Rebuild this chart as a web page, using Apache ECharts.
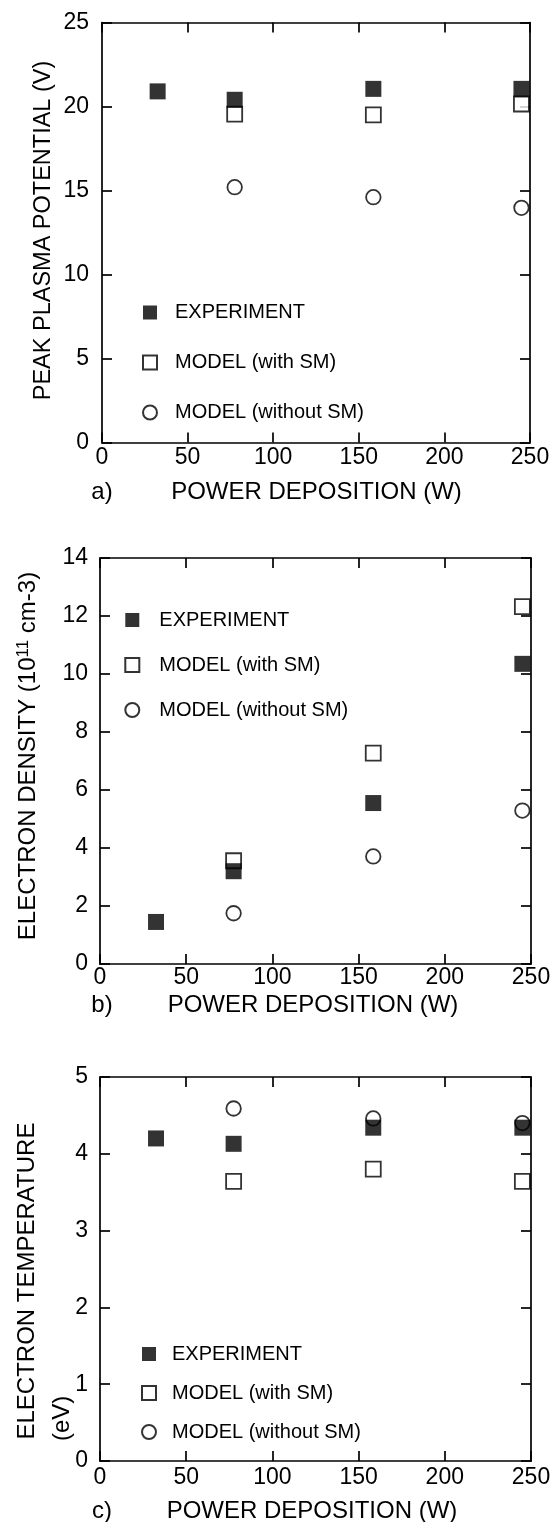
<!DOCTYPE html>
<html>
<head>
<meta charset="utf-8">
<script src="https://cdn.jsdelivr.net/npm/echarts@6/dist/echarts.min.js"></script>
<style>
html,body{margin:0;padding:0;background:#fff;}
#chart{width:557px;height:1522px;}
</style>
</head>
<body>
<div id="chart"></div>
<script>
// ---------------- data ----------------
const xTicks = [0, 50, 100, 150, 200, 250];
const yTicksA = [0, 5, 10, 15, 20, 25];
const yTicksB = [0, 2, 4, 6, 8, 10, 12, 14];
const yTicksC = [0, 1, 2, 3, 4, 5];

const seriesNames = ['EXPERIMENT', 'MODEL (with SM)', 'MODEL (without SM)'];

const powerExp = [32.5, 77.5, 158.5, 245];
const powerModel = [77.5, 158.5, 245];

const potentialExp = [20.9, 20.4, 21.05, 21.05];
const potentialWithSM = [19.55, 19.5, 20.15];
const potentialWithoutSM = [15.2, 14.6, 13.97];

const densityExp = [1.45, 3.2, 5.55, 10.35];
const densityWithSM = [3.56, 7.27, 12.32];
const densityWithoutSM = [1.75, 3.71, 5.29];

const temperatureExp = [4.20, 4.13, 4.34, 4.34];
const temperatureWithSM = [3.64, 3.80, 3.64];
const temperatureWithoutSM = [4.59, 4.46, 4.40];

const panelLabels = ['a)', 'b)', 'c)'];
const xTitle = 'POWER DEPOSITION (W)';

// ---------------- helpers ----------------
const FONT = "'Liberation Sans', Arial, Helvetica, sans-serif";
const zip = (xs, ys) => xs.map((x, i) => [x, ys[i]]);

const grids = [
  { left: 102, top: 22.5, width: 428, height: 420 },
  { left: 100, top: 558, width: 431, height: 406 },
  { left: 100, top: 1077, width: 431, height: 384 }
];
const yTickSets = [yTicksA, yTicksB, yTicksC];
const xLabelMargin = [4, 2, 5];
const yLabelMargin = [13, 12, 12];

const lineStyle = { color: '#000', width: 1.7 };
const xAxes = [], yAxes = [];
grids.forEach((g, i) => {
  const common = {
    type: 'value', gridIndex: i,
    min: xTicks[0], max: xTicks[xTicks.length - 1], interval: xTicks[1] - xTicks[0],
    splitLine: { show: false },
    axisLine: { show: true, onZero: false, lineStyle: lineStyle },
    axisTick: { show: true, inside: true, length: 10, lineStyle: { color: '#000', width: 1.7 } }
  };
  xAxes.push(Object.assign({}, common, {
    position: 'bottom',
    axisLabel: { show: true, color: '#000', fontSize: 23, fontFamily: FONT, margin: xLabelMargin[i] }
  }));
  xAxes.push(Object.assign({}, common, { position: 'top', axisLabel: { show: false } }));
  const yt = yTickSets[i];
  const ycommon = Object.assign({}, common, {
    min: yt[0], max: yt[yt.length - 1], interval: yt[1] - yt[0]
  });
  yAxes.push(Object.assign({}, ycommon, {
    position: 'left',
    axisLabel: { show: true, color: '#000', fontSize: 23, fontFamily: FONT, margin: yLabelMargin[i] }
  }));
  yAxes.push(Object.assign({}, ycommon, { position: 'right', axisLabel: { show: false } }));
});

const styleExp = { color: '#000' };
const styleOpen = { color: '#fff', borderColor: '#000', borderWidth: 1.8 };

function panelSeries(i, exp, withSM, withoutSM) {
  const ax = { xAxisIndex: 2 * i, yAxisIndex: 2 * i };
  return [
    Object.assign({ type: 'scatter', name: seriesNames[2], symbol: 'circle', symbolSize: 14.5,
      itemStyle: styleOpen, data: zip(powerModel, withoutSM), z: 3 }, ax),
    Object.assign({ type: 'scatter', name: seriesNames[1], symbol: 'rect', symbolSize: 15,
      itemStyle: styleOpen, data: zip(powerModel, withSM), z: 4 }, ax),
    Object.assign({ type: 'scatter', name: seriesNames[0], symbol: 'rect', symbolSize: 16,
      itemStyle: styleExp, data: zip(powerExp, exp), z: 5 }, ax)
  ];
}

const series = [].concat(
  panelSeries(0, potentialExp, potentialWithSM, potentialWithoutSM),
  panelSeries(1, densityExp, densityWithSM, densityWithoutSM),
  panelSeries(2, temperatureExp, temperatureWithSM, temperatureWithoutSM)
);

const legendPos = [
  { left: 137, top: 297.5, itemGap: 30, pad: 13 },
  { left: 119.3, top: 605, itemGap: 25, pad: 15 },
  { left: 136, top: 1339, itemGap: 19, pad: 11 }
];
const legends = legendPos.map(p => ({
  orient: 'vertical', left: p.left, top: p.top, itemGap: p.itemGap,
  itemWidth: 14, itemHeight: 14, selectedMode: false,
  data: seriesNames,
  textStyle: { color: '#000', fontSize: 20, fontFamily: FONT, lineHeight: 20, padding: [0, 0, 0, p.pad] }
}));

const textStyleBase = { fill: '#000', font: '24px ' + FONT };
const graphics = [
  // y-axis titles
  { type: 'text', x: 44, y: 230.5, rotation: Math.PI / 2,
    style: Object.assign({ text: 'PEAK PLASMA POTENTIAL (V)', align: 'center', verticalAlign: 'middle' }, { fill: '#000', font: '23.5px ' + FONT }) },
  { type: 'text', x: 28, y: 756, rotation: Math.PI / 2,
    style: { text: 'ELECTRON DENSITY (10{sup|11} cm-3)', align: 'center', verticalAlign: 'middle',
      fill: '#000', fontSize: 24, fontFamily: FONT,
      rich: { sup: { fontSize: 17, fontFamily: FONT, fill: '#000', verticalAlign: 'top', padding: [0, 0, 9, 0] } } } },
  { type: 'text', x: 27, y: 1439.5, rotation: Math.PI / 2,
    style: Object.assign({ text: 'ELECTRON TEMPERATURE', align: 'left', verticalAlign: 'middle' }, textStyleBase) },
  { type: 'text', x: 62, y: 1441, rotation: Math.PI / 2,
    style: Object.assign({ text: '(eV)', align: 'left', verticalAlign: 'middle' }, textStyleBase) },
  // x-axis titles and panel letters
  { type: 'text', x: 316.5, y: 492, style: Object.assign({ text: xTitle, align: 'center', verticalAlign: 'middle' }, textStyleBase) },
  { type: 'text', x: 313, y: 1005, style: Object.assign({ text: xTitle, align: 'center', verticalAlign: 'middle' }, textStyleBase) },
  { type: 'text', x: 312, y: 1511, style: Object.assign({ text: xTitle, align: 'center', verticalAlign: 'middle' }, textStyleBase) },
  { type: 'text', x: 102, y: 492, style: Object.assign({ text: panelLabels[0], align: 'center', verticalAlign: 'middle' }, textStyleBase) },
  { type: 'text', x: 102, y: 1005, style: Object.assign({ text: panelLabels[1], align: 'center', verticalAlign: 'middle' }, textStyleBase) },
  { type: 'text', x: 102, y: 1511, style: Object.assign({ text: panelLabels[2], align: 'center', verticalAlign: 'middle' }, textStyleBase) }
];

const chart = echarts.init(document.getElementById('chart'), null, { renderer: 'canvas' });
chart.setOption({
  backgroundColor: '#fff',
  animation: false,
  grid: grids.map(g => Object.assign({ containLabel: false }, g)),
  xAxis: xAxes,
  yAxis: yAxes,
  legend: legends,
  series: series,
  graphic: graphics
});
</script>
</body>
</html>
